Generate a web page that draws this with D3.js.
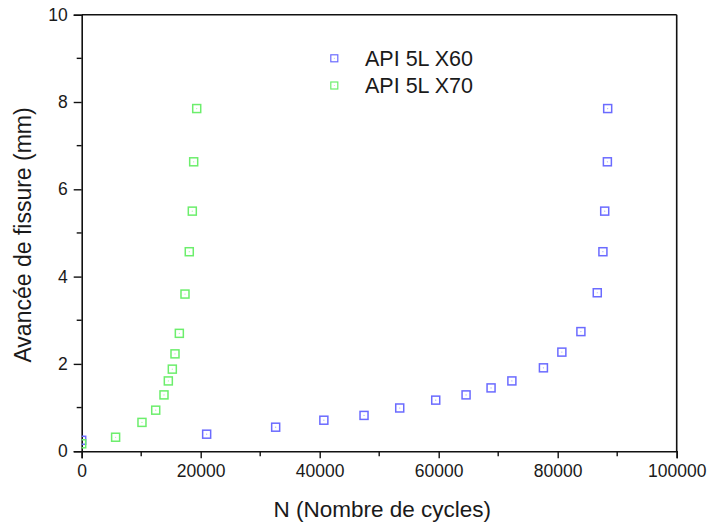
<!DOCTYPE html>
<html>
<head>
<meta charset="utf-8">
<script src="https://cdn.jsdelivr.net/npm/d3@7"></script>
<style>
  html, body { margin: 0; padding: 0; background: #fff; }
  svg { display: block; font-family: "Liberation Sans", Arial, Helvetica, sans-serif; }
</style>
</head>
<body>
<svg id="chart" width="709" height="524"></svg>
<script>
// Crack growth vs. number of cycles for two pipeline steels
const seriesNames = ["API 5L X60", "API 5L X70"];

const x60Cycles = [0, 21000, 32600, 40700, 47450, 53450, 59500, 64600, 68800, 72300, 77600, 80700, 83900, 86650, 87600, 87900, 88350, 88400];
const x60Crack  = [0.25, 0.39, 0.55, 0.71, 0.82, 0.99, 1.17, 1.29, 1.45, 1.61, 1.91, 2.27, 2.74, 3.63, 4.57, 5.50, 6.63, 7.85];

const x70Cycles = [0, 5700, 10130, 12440, 13830, 14560, 15230, 15680, 16410, 17360, 18080, 18590, 18820, 19330];
const x70Crack  = [0.17, 0.32, 0.66, 0.94, 1.29, 1.61, 1.88, 2.23, 2.70, 3.60, 4.57, 5.50, 6.63, 7.85];

const xTicks = [0, 20000, 40000, 60000, 80000, 100000];
const yTicks = [0, 2, 4, 6, 8, 10];
const seriesColors = ["#6b6bff", "#6cee6c"];

const svg = d3.select("#chart");
const m = { left: 81.7, right: 676.7, top: 14.7, bottom: 451.2 };

const x = d3.scaleLinear().domain([0, 100000]).range([m.left, m.right]);
const y = d3.scaleLinear().domain([0, 10]).range([m.bottom, m.top]);

svg.append("defs").append("clipPath").attr("id", "plotClip")
  .append("rect")
  .attr("x", m.left).attr("y", m.top)
  .attr("width", m.right - m.left).attr("height", m.bottom - m.top);

// Frame: top and right border lines
svg.append("line").attr("x1", m.left).attr("x2", m.right).attr("y1", m.top).attr("y2", m.top)
  .attr("stroke", "#111").attr("stroke-width", 1.6);
svg.append("line").attr("x1", m.right).attr("x2", m.right).attr("y1", m.top).attr("y2", m.bottom)
  .attr("stroke", "#111").attr("stroke-width", 1.6);

// Minor ticks
const xMinor = d3.range(10000, 100000, 20000);
const yMinor = d3.range(1, 10, 2);
svg.append("g").selectAll("line").data(xMinor).join("line")
  .attr("x1", d => x(d)).attr("x2", d => x(d))
  .attr("y1", m.bottom).attr("y2", m.bottom + 5)
  .attr("stroke", "#111").attr("stroke-width", 1.4);
svg.append("g").selectAll("line").data(yMinor).join("line")
  .attr("y1", d => y(d)).attr("y2", d => y(d))
  .attr("x1", m.left).attr("x2", m.left - 5)
  .attr("stroke", "#111").attr("stroke-width", 1.4);

// Bottom axis
const gx = svg.append("g").attr("transform", `translate(0,${m.bottom})`)
  .call(d3.axisBottom(x).tickValues(xTicks).tickFormat(d3.format("d")).tickSize(7).tickPadding(6));
// Left axis
const gy = svg.append("g").attr("transform", `translate(${m.left},0)`)
  .call(d3.axisLeft(y).tickValues(yTicks).tickFormat(d3.format("d")).tickSize(8).tickPadding(6));

[gx, gy].forEach(g => {
  g.select(".domain").attr("stroke", "#111").attr("stroke-width", 1.6);
  g.selectAll(".tick line").attr("stroke", "#111").attr("stroke-width", 1.4);
  g.selectAll(".tick text").attr("fill", "#1a1a1a")
    .style("font-size", "17.5px").style("font-family", "'Liberation Sans', Arial, sans-serif");
});

// Axis titles
svg.append("text")
  .attr("x", (m.left + m.right) / 2 + 3).attr("y", 516.5)
  .attr("text-anchor", "middle")
  .attr("fill", "#1a1a1a")
  .style("font-size", "22.5px")
  .text("N (Nombre de cycles)");

svg.append("text")
  .attr("transform", `translate(31,${(m.top + m.bottom) / 2 + 2}) rotate(-90)`)
  .attr("text-anchor", "middle")
  .attr("fill", "#1a1a1a")
  .style("font-size", "23px")
  .text("Avancée de fissure (mm)");

// Open square markers with a small centre dot
function drawSeries(cycles, crack, color) {
  const pts = cycles.map((c, i) => ({ c, v: crack[i] }));
  const g = svg.append("g").attr("clip-path", "url(#plotClip)");
  const s = 8;
  g.selectAll("rect").data(pts).join("rect")
    .attr("x", d => x(d.c) - s / 2).attr("y", d => y(d.v) - s / 2)
    .attr("width", s).attr("height", s)
    .attr("fill", "none").attr("stroke", color).attr("stroke-width", 1.5);
  g.selectAll("circle").data(pts).join("circle")
    .attr("cx", d => x(d.c)).attr("cy", d => y(d.v)).attr("r", 0.6)
    .attr("fill", color).attr("opacity", 0.6);
}
drawSeries(x60Cycles, x60Crack, seriesColors[0]);
drawSeries(x70Cycles, x70Crack, seriesColors[1]);

// Legend
const legend = svg.append("g");
seriesNames.forEach((name, i) => {
  const cy = 58.3 + i * 27.2;
  legend.append("rect")
    .attr("x", 334.3 - 3.5).attr("y", cy - 3.5).attr("width", 7).attr("height", 7)
    .attr("fill", "none").attr("stroke", seriesColors[i]).attr("stroke-width", 1.2);
  legend.append("circle").attr("cx", 334.3).attr("cy", cy).attr("r", 0.5)
    .attr("fill", seriesColors[i]).attr("opacity", 0.6);
  legend.append("text")
    .attr("x", 365).attr("y", cy + 7.5)
    .attr("fill", "#1a1a1a")
    .style("font-size", "21.5px")
    .text(name);
});
</script>
</body>
</html>
